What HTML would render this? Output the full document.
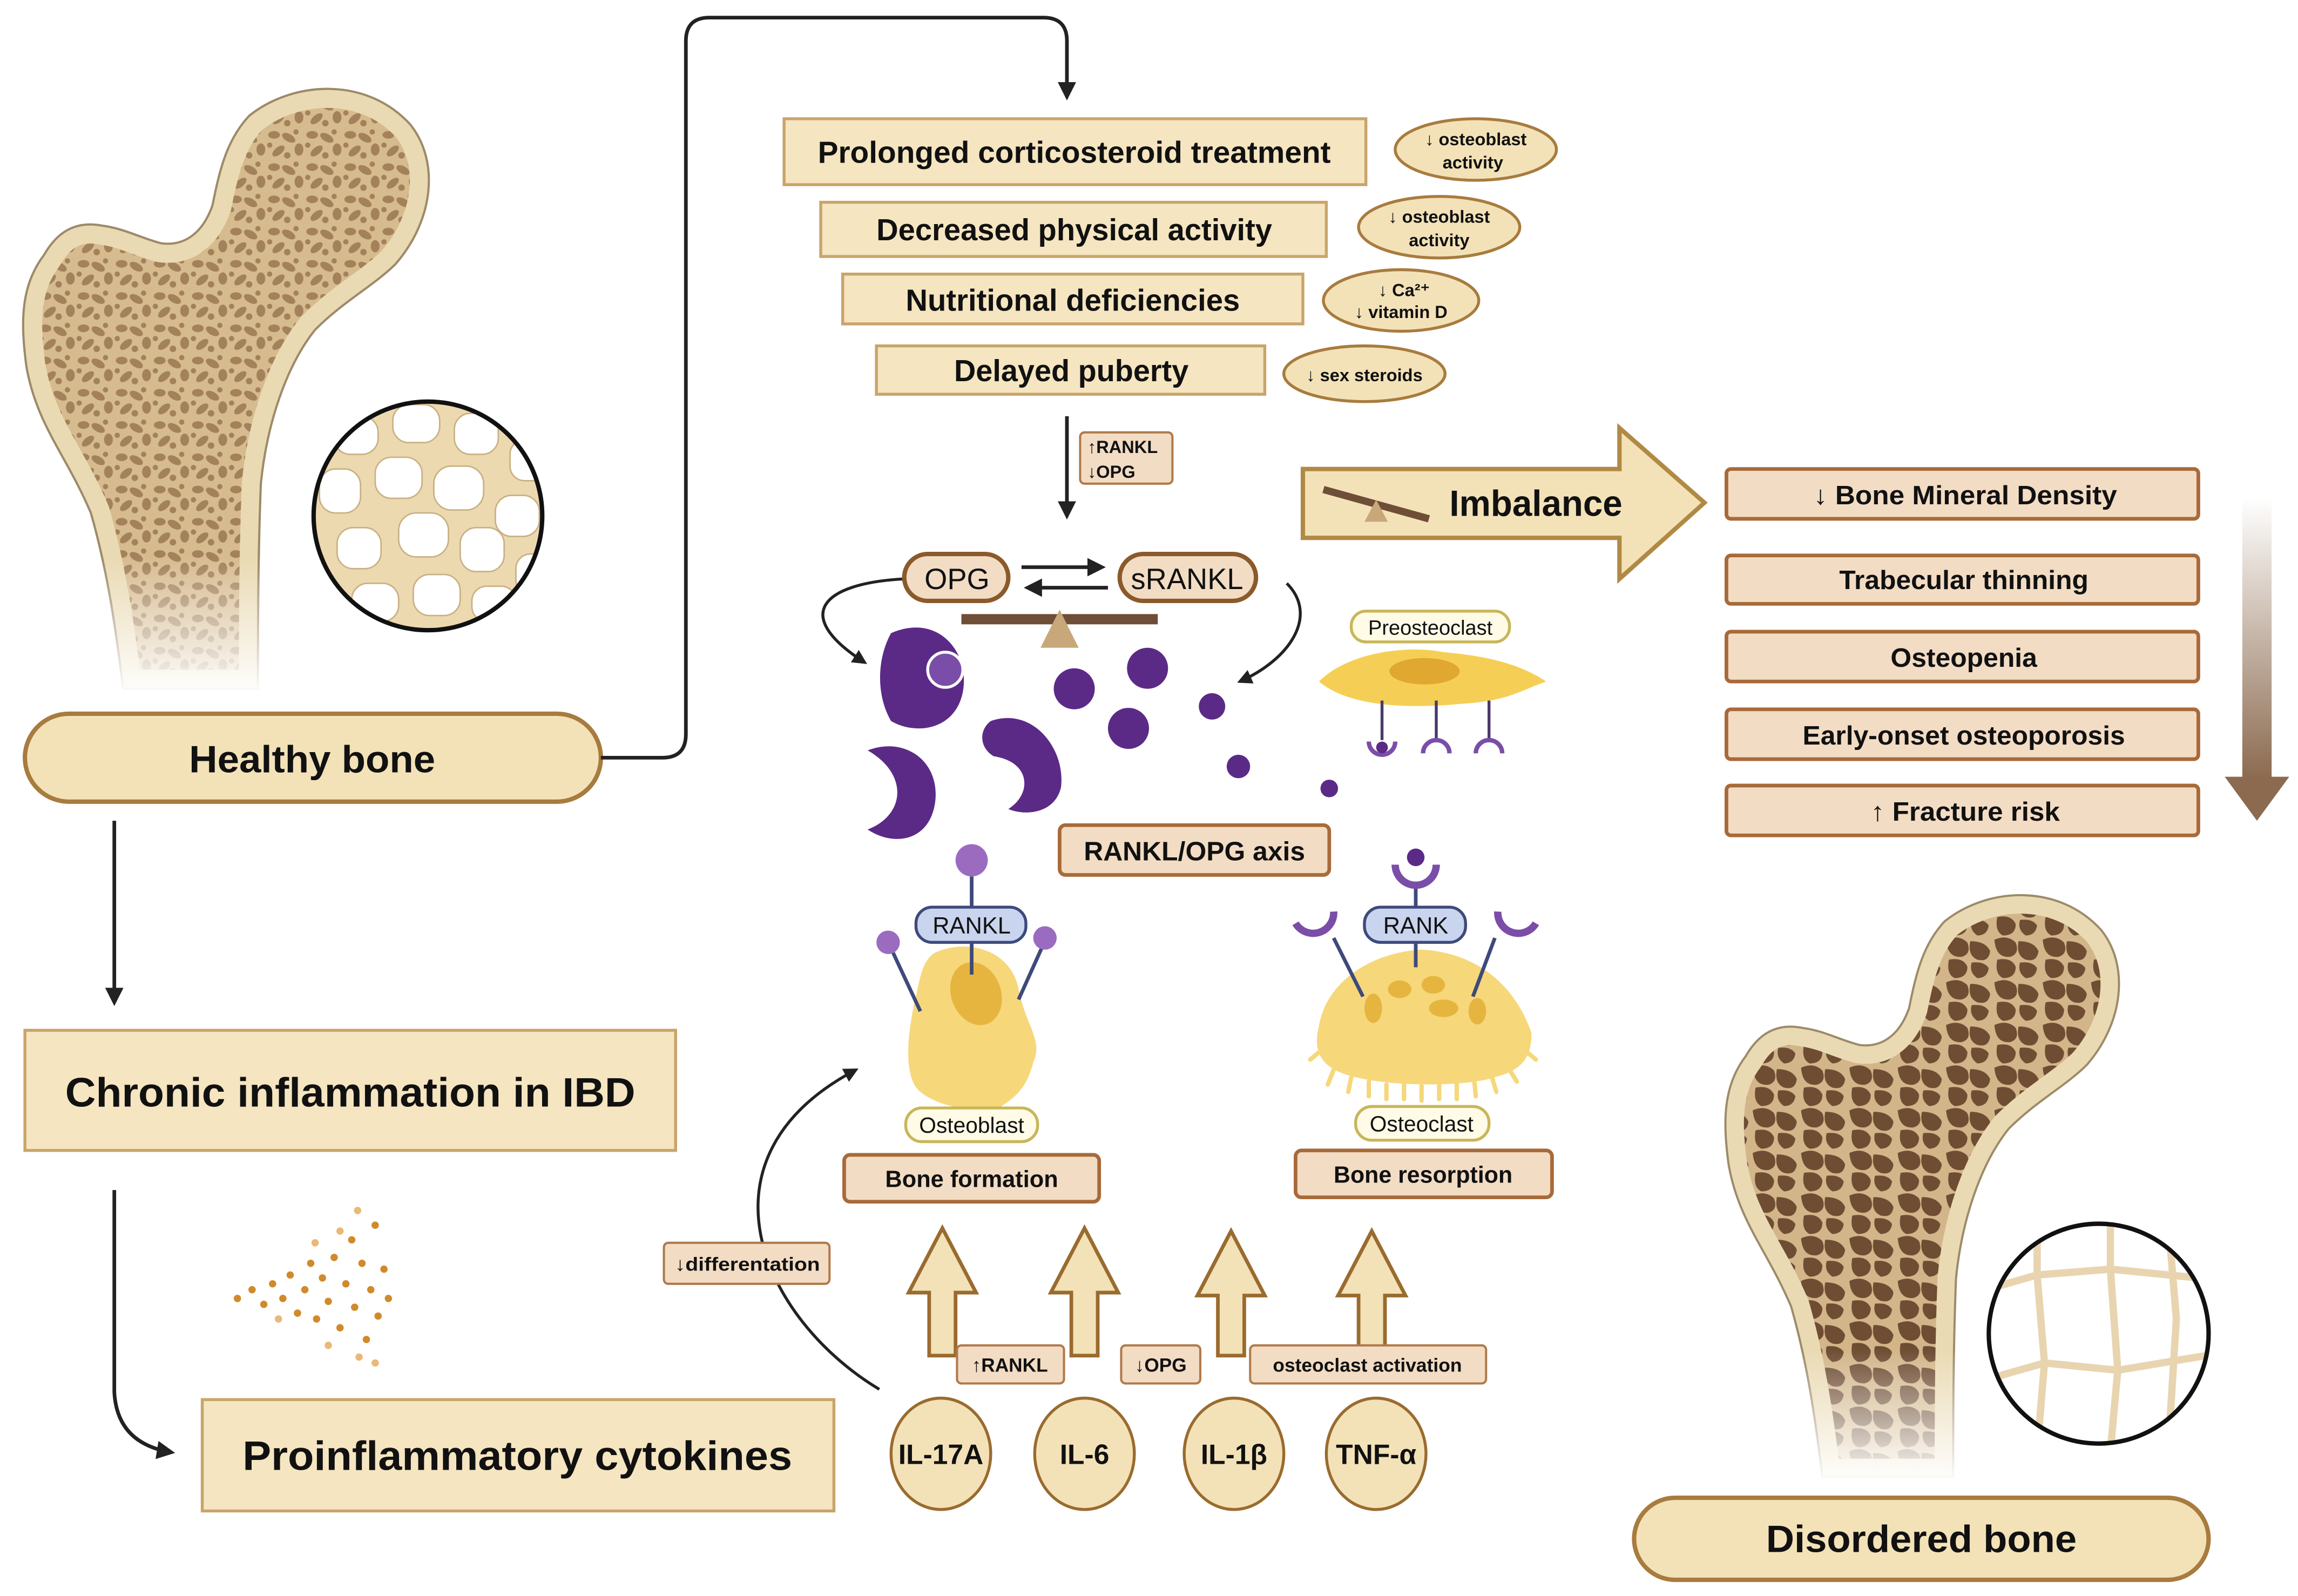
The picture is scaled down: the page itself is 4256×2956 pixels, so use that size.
<!DOCTYPE html>
<html><head><meta charset="utf-8"><style>
html,body{margin:0;padding:0;background:#fff}
svg{display:block}
text{font-family:"Liberation Sans",sans-serif;font-weight:bold;fill:#111}
.n{font-weight:normal}
</style></head><body>
<svg width="4256" height="2956" viewBox="0 0 1568 1089" xmlns="http://www.w3.org/2000/svg">
<defs>
<pattern id="spots" width="26" height="22" patternUnits="userSpaceOnUse">
<rect width="26" height="22" fill="#d6bb8f"/>
<ellipse cx="5" cy="4" rx="4" ry="2.6" fill="#a3815a"/>
<ellipse cx="15" cy="6" rx="5" ry="2.6" fill="#a3815a" transform="rotate(30 15 6)"/>
<ellipse cx="22" cy="14" rx="3" ry="4.2" fill="#a3815a"/>
<ellipse cx="8" cy="15" rx="5" ry="2.5" fill="#a3815a" transform="rotate(-40 8 15)"/>
<circle cx="14" cy="18" r="2.2" fill="#a3815a"/>
<circle cx="2" cy="11" r="1.8" fill="#a3815a"/>
<circle cx="20" cy="2" r="1.8" fill="#a3815a"/>
</pattern>
<pattern id="dspots" width="34" height="30" patternUnits="userSpaceOnUse">
<rect width="34" height="30" fill="#d2b68a"/>
<path d="M1,2 q9,-4 15,2 q3,8 -4,10 q-10,1 -11,-12z" fill="#6e4d33"/>
<path d="M18,3 q11,0 14,7 q-1,8 -9,6 q-7,-3 -5,-13z" fill="#6e4d33"/>
<path d="M3,16 q10,-2 13,5 q0,8 -9,8 q-6,-3 -4,-13z" fill="#6e4d33"/>
<path d="M19,18 q9,-1 12,4 q-1,7 -8,7 q-6,-4 -4,-11z" fill="#6e4d33"/>
</pattern>
<path id="femur" d="M170,79 C200,55 250,52 280,85 C300,110 296,150 270,180 C255,195 235,205 215,225 C195,250 182,290 178,330 C176,380 176,430 176,470 L84,470 C78,420 72,385 62,350 C45,310 25,290 18,250 C14,220 14,195 30,174 C38,160 50,150 70,154 C85,156 95,162 110,166 C125,168 138,160 145,140 C150,115 155,95 170,79Z"/>
<clipPath id="fclip"><use href="#femur"/></clipPath>
<linearGradient id="fade" x1="0" y1="0" x2="0" y2="1"><stop offset="0" stop-color="#fff" stop-opacity="0"/><stop offset="1" stop-color="#fff" stop-opacity="1"/></linearGradient>
<linearGradient id="brown" x1="0" y1="0" x2="0" y2="1"><stop offset="0" stop-color="#fff"/><stop offset="1" stop-color="#8b6a4f"/></linearGradient>
<marker id="ah" viewBox="0 0 10 10" refX="8" refY="5" markerWidth="5" markerHeight="5" orient="auto"><path d="M0,0 L10,5 L0,10z" fill="#222"/></marker>
<clipPath id="c1"><circle cx="292" cy="352" r="78"/></clipPath>
<clipPath id="c2"><circle cx="1432" cy="910" r="75"/></clipPath>
</defs>

<g>
<g clip-path="url(#fclip)">
<rect x="0" y="40" width="320" height="440" fill="url(#spots)"/>
<use href="#femur" fill="none" stroke="#eadab3" stroke-width="26"/>
</g>
<use href="#femur" fill="none" stroke="#9c8a6a" stroke-width="1.5"/>
<rect x="0" y="380" width="320" height="95" fill="url(#fade)"/>
</g>
<g clip-path="url(#c1)">
<rect x="210" y="270" width="170" height="170" fill="#ecd9b0"/>
<g fill="#fff" stroke="#c9b083" stroke-width="1">
<rect x="228" y="284" width="30" height="26" rx="11"/><rect x="268" y="276" width="32" height="26" rx="11"/><rect x="310" y="282" width="30" height="28" rx="11"/><rect x="348" y="300" width="26" height="28" rx="10"/>
<rect x="218" y="320" width="28" height="30" rx="11"/><rect x="256" y="312" width="32" height="28" rx="11"/><rect x="296" y="318" width="34" height="30" rx="12"/><rect x="338" y="338" width="30" height="28" rx="11"/>
<rect x="230" y="360" width="30" height="28" rx="11"/><rect x="272" y="350" width="34" height="30" rx="12"/><rect x="314" y="360" width="30" height="30" rx="11"/><rect x="352" y="378" width="24" height="28" rx="10"/>
<rect x="240" y="398" width="32" height="26" rx="11"/><rect x="282" y="392" width="32" height="28" rx="11"/><rect x="322" y="400" width="30" height="24" rx="10"/>
</g>
</g>
<circle cx="292" cy="352" r="78" fill="none" stroke="#111" stroke-width="3"/>

<rect x="17" y="487" width="393" height="60" rx="30" fill="#f3e2b8" stroke="#a87b3e" stroke-width="3"/>
<text x="213" y="527" font-size="26" text-anchor="middle" textLength="168" lengthAdjust="spacingAndGlyphs">Healthy bone</text>

<g fill="none" stroke="#222" stroke-width="2.5">
<path d="M410,517 H452 Q468,517 468,501 V28 Q468,12 484,12 H712 Q728,12 728,28 V66" marker-end="url(#ah)"/>
<path d="M78,560 V684" marker-end="url(#ah)"/>
<path d="M78,812 V950 Q80,985 117,991" marker-end="url(#ah)"/>
<path d="M728,284 V352" marker-end="url(#ah)"/>
<path d="M600,948 C520,900 470,790 584,730" stroke-width="2" marker-end="url(#ah)"/>
<path d="M617,395 C560,398 540,420 590,452" stroke-width="2" marker-end="url(#ah)"/>
<path d="M878,398 C900,420 880,450 846,465" stroke-width="2" marker-end="url(#ah)"/>
</g>

<rect x="17" y="703" width="444" height="82" fill="#f5e5c0" stroke="#c9a46a" stroke-width="2"/>
<text x="239" y="755" font-size="28" text-anchor="middle" textLength="389" lengthAdjust="spacingAndGlyphs">Chronic inflammation in IBD</text>
<rect x="138" y="955" width="431" height="76" fill="#f5e5c0" stroke="#c9a46a" stroke-width="2"/>
<text x="353" y="1003" font-size="28" text-anchor="middle" textLength="375" lengthAdjust="spacingAndGlyphs">Proinflammatory cytokines</text>

<g fill="#d08a2a">
<circle cx="162" cy="886" r="2.5"/><circle cx="172" cy="880" r="2.5"/><circle cx="180" cy="890" r="2.5"/><circle cx="186" cy="876" r="2.5"/><circle cx="193" cy="886" r="2.5"/><circle cx="198" cy="870" r="2.5"/><circle cx="203" cy="896" r="2.5"/><circle cx="208" cy="880" r="2.5"/><circle cx="212" cy="862" r="2.5"/><circle cx="216" cy="900" r="2.5"/><circle cx="220" cy="872" r="2.5"/><circle cx="224" cy="888" r="2.5"/><circle cx="228" cy="858" r="2.5"/><circle cx="232" cy="906" r="2.5"/><circle cx="236" cy="876" r="2.5"/><circle cx="240" cy="846" r="2.5"/><circle cx="242" cy="892" r="2.5"/><circle cx="247" cy="862" r="2.5"/><circle cx="250" cy="914" r="2.5"/><circle cx="253" cy="880" r="2.5"/><circle cx="256" cy="836" r="2.5"/><circle cx="258" cy="898" r="2.5"/><circle cx="262" cy="866" r="2.5"/><circle cx="265" cy="886" r="2.5"/>
</g>
<g fill="#eab878"><circle cx="244" cy="826" r="2.5"/><circle cx="232" cy="840" r="2.5"/><circle cx="215" cy="848" r="2.5"/><circle cx="245" cy="926" r="2.5"/><circle cx="256" cy="930" r="2.5"/><circle cx="224" cy="918" r="2.5"/><circle cx="190" cy="900" r="2.5"/></g>

<g fill="#f5e5c0" stroke="#c9a46a" stroke-width="2">
<rect x="535" y="81" width="397" height="45"/>
<rect x="560" y="138" width="345" height="37"/>
<rect x="575" y="187" width="314" height="34"/>
<rect x="598" y="236" width="265" height="33"/>
</g>
<text x="733" y="111" font-size="21" text-anchor="middle" textLength="350" lengthAdjust="spacingAndGlyphs">Prolonged corticosteroid treatment</text>
<text x="733" y="164" font-size="21" text-anchor="middle" textLength="270" lengthAdjust="spacingAndGlyphs">Decreased physical activity</text>
<text x="732" y="212" font-size="21" text-anchor="middle" textLength="228" lengthAdjust="spacingAndGlyphs">Nutritional deficiencies</text>
<text x="731" y="260" font-size="21" text-anchor="middle" textLength="160" lengthAdjust="spacingAndGlyphs">Delayed puberty</text>
<g fill="#f3e2b8" stroke="#a87b3e" stroke-width="2">
<ellipse cx="1007" cy="102" rx="55" ry="21"/>
<ellipse cx="982" cy="155" rx="55" ry="21"/>
<ellipse cx="956" cy="205" rx="53" ry="21"/>
<ellipse cx="931" cy="255" rx="55" ry="19"/>
</g>
<g font-size="12" text-anchor="middle">
<text x="1007" y="99">↓ osteoblast</text><text x="1005" y="115">activity</text>
<text x="982" y="152">↓ osteoblast</text><text x="982" y="168">activity</text>
<text x="958" y="202">↓ Ca²⁺</text><text x="956" y="217">↓ vitamin D</text>
<text x="931" y="260">↓ sex steroids</text>
</g>
<rect x="737" y="295" width="63" height="35" rx="3" fill="#f2dcc4" stroke="#b07a4a" stroke-width="1.5"/>
<text x="742" y="309" font-size="12">↑RANKL</text><text x="742" y="326" font-size="12">↓OPG</text>

<rect x="617" y="378" width="71" height="32" rx="16" fill="#f2dcc4" stroke="#8b5a2b" stroke-width="3"/>
<text x="653" y="402" font-size="20" class="n" text-anchor="middle">OPG</text>
<rect x="764" y="378" width="93" height="32" rx="16" fill="#f2dcc4" stroke="#8b5a2b" stroke-width="3"/>
<text x="810" y="402" font-size="20" class="n" text-anchor="middle">sRANKL</text>
<g stroke="#222" stroke-width="2.5" fill="none">
<path d="M697,387 H752" marker-end="url(#ah)"/>
<path d="M756,401 H701" marker-end="url(#ah)"/>
</g>
<rect x="656" y="419" width="134" height="7" fill="#6f4e37"/>
<path d="M723,416 L736,442 H710Z" fill="#c8a87a"/>

<g fill="#5b2a86">
<path d="M608,432 C640,418 662,445 657,472 C652,498 625,502 608,492 C598,475 598,450 608,432Z"/>
<path d="M592,512 C618,502 642,520 638,548 C634,574 610,578 592,566 C618,556 620,528 592,512Z"/>
<path d="M676,492 C704,482 727,510 724,537 C720,555 700,557 688,552 C704,542 704,520 678,516 C668,510 668,498 676,492Z"/>
</g>
<g fill="#5b2a86">
<circle cx="733" cy="470" r="14"/><circle cx="783" cy="456" r="14"/><circle cx="770" cy="497" r="14"/><circle cx="827" cy="482" r="9"/><circle cx="845" cy="523" r="8"/><circle cx="907" cy="538" r="6"/>
</g>
<circle cx="645" cy="457" r="12" fill="#7a4ea8" stroke="#fff" stroke-width="2"/>

<rect x="922" y="417" width="108" height="21" rx="10" fill="#fffbe6" stroke="#c9b65a" stroke-width="2"/>
<text x="976" y="433" font-size="14" class="n" text-anchor="middle">Preosteoclast</text>
<path d="M900,465 C920,445 960,440 985,445 C1020,448 1040,455 1055,465 C1040,470 1030,478 1000,480 C960,484 920,482 900,465Z" fill="#f5cf55"/>
<ellipse cx="972" cy="458" rx="24" ry="9" fill="#e0a830"/>
<g stroke="#4a3a6a" stroke-width="2" fill="none">
<path d="M943,478 V505"/><path d="M980,478 V505"/><path d="M1016,478 V505"/>
</g>
<g stroke="#7a4ea8" stroke-width="3" fill="none">
<path d="M934,506 a9,9 0 0 0 18,0"/><path d="M971,514 a9,9 0 0 1 18,0"/><path d="M1007,514 a9,9 0 0 1 18,0"/>
</g>
<circle cx="943" cy="510" r="4" fill="#5b2a86"/>

<rect x="723" y="563" width="184" height="34" rx="4" fill="#f2dcc4" stroke="#a86a3a" stroke-width="2.5"/>
<text x="815" y="587" font-size="18" text-anchor="middle" textLength="151" lengthAdjust="spacingAndGlyphs">RANKL/OPG axis</text>

<path d="M638,650 C660,640 690,648 695,675 C700,700 712,710 705,725 C700,745 690,750 683,755 C665,760 640,755 628,745 C615,735 620,700 625,680 C628,665 630,655 638,650Z" fill="#f6d77a"/>
<ellipse cx="666" cy="678" rx="17" ry="22" fill="#e6b540" transform="rotate(-20 666 678)"/>
<g stroke="#3e4a7a" stroke-width="2.5"><path d="M663,598 V665"/><path d="M607,645 L628,690"/><path d="M713,642 L695,682"/></g>
<g fill="#9b6bc0"><circle cx="663" cy="587" r="11"/><circle cx="606" cy="643" r="8"/><circle cx="713" cy="640" r="8"/></g>
<rect x="625" y="619" width="75" height="24" rx="11" fill="#c9d4ee" stroke="#3e4a7a" stroke-width="2"/>
<text x="663" y="637" font-size="16" class="n" text-anchor="middle">RANKL</text>
<rect x="618" y="756" width="90" height="23" rx="11" fill="#fffbe6" stroke="#c9b65a" stroke-width="2"/>
<text x="663" y="773" font-size="15" class="n" text-anchor="middle">Osteoblast</text>
<rect x="576" y="788" width="174" height="32" rx="4" fill="#f2dcc4" stroke="#a86a3a" stroke-width="2.5"/>
<text x="663" y="810" font-size="16" text-anchor="middle" textLength="118" lengthAdjust="spacingAndGlyphs">Bone formation</text>

<path d="M900,700 C905,670 935,650 970,648 C1010,650 1035,675 1045,705 C1045,720 1040,730 1020,735 C1000,742 940,742 915,732 C900,726 896,715 900,700Z" fill="#f6d77a"/>
<g stroke="#f6d77a" stroke-width="3" stroke-linecap="round">
<path d="M910,730 l-4,10"/><path d="M922,735 l-2,10"/><path d="M934,738 l0,10"/><path d="M946,740 l0,10"/><path d="M958,740 l0,10"/><path d="M970,741 l0,10"/><path d="M982,740 l0,10"/><path d="M994,740 l0,10"/><path d="M1006,738 l1,10"/><path d="M1018,735 l3,10"/><path d="M1030,730 l5,8"/><path d="M900,718 l-6,5"/><path d="M1042,718 l6,5"/>
</g>
<g fill="#e6b540"><ellipse cx="937" cy="688" rx="6" ry="10"/><ellipse cx="955" cy="675" rx="8" ry="6"/><ellipse cx="978" cy="672" rx="8" ry="6"/><ellipse cx="985" cy="688" rx="10" ry="6"/><ellipse cx="1008" cy="690" rx="6" ry="9"/></g>
<g stroke="#3e4a7a" stroke-width="2.5"><path d="M966,605 V660"/><path d="M910,640 L930,680"/><path d="M1020,640 L1005,680"/></g>
<g stroke="#7a4ea8" stroke-width="5" fill="none"><path d="M952,590 a14,14 0 0 0 28,0"/><path d="M884,630 a14,14 0 0 0 26,-8"/><path d="M1022,622 a14,14 0 0 0 26,8"/></g>
<circle cx="966" cy="585" r="6" fill="#5b2a86"/>
<rect x="931" y="619" width="69" height="24" rx="11" fill="#c9d4ee" stroke="#3e4a7a" stroke-width="2"/>
<text x="966" y="637" font-size="16" class="n" text-anchor="middle">RANK</text>
<rect x="925" y="755" width="91" height="23" rx="11" fill="#fffbe6" stroke="#c9b65a" stroke-width="2"/>
<text x="970" y="772" font-size="15" class="n" text-anchor="middle">Osteoclast</text>
<rect x="884" y="785" width="175" height="32" rx="4" fill="#f2dcc4" stroke="#a86a3a" stroke-width="2.5"/>
<text x="971" y="807" font-size="16" text-anchor="middle" textLength="122" lengthAdjust="spacingAndGlyphs">Bone resorption</text>

<g fill="#f3e2b8" stroke="#9a6b2f" stroke-width="2.5">
<path d="M643,838 L666,882 H652 V925 H634 V882 H620Z"/>
<path d="M740,838 L763,882 H749 V925 H731 V882 H717Z"/>
<path d="M840,840 L863,884 H849 V925 H831 V884 H817Z"/>
<path d="M936,840 L959,884 H945 V925 H927 V884 H913Z"/>
</g>
<g fill="#f2dcc4" stroke="#b07a4a" stroke-width="1.5">
<rect x="653" y="918" width="73" height="26" rx="3"/>
<rect x="765" y="918" width="54" height="26" rx="3"/>
<rect x="853" y="918" width="161" height="26" rx="3"/>
<rect x="453" y="848" width="113" height="28" rx="3"/>
</g>
<g font-size="13">
<text x="689" y="936" text-anchor="middle">↑RANKL</text>
<text x="792" y="936" text-anchor="middle">↓OPG</text>
<text x="933" y="936" text-anchor="middle" textLength="129" lengthAdjust="spacingAndGlyphs">osteoclast activation</text>
<text x="510" y="867" text-anchor="middle" textLength="99" lengthAdjust="spacingAndGlyphs">↓differentation</text>
</g>
<g fill="#f3e2b8" stroke="#9a6b2f" stroke-width="2">
<ellipse cx="642" cy="992" rx="34" ry="38"/><ellipse cx="740" cy="992" rx="34" ry="38"/><ellipse cx="842" cy="992" rx="34" ry="38"/><ellipse cx="939" cy="992" rx="34" ry="38"/>
</g>
<g font-size="19" text-anchor="middle">
<text x="642" y="999">IL-17A</text><text x="740" y="999">IL-6</text><text x="842" y="999">IL-1β</text><text x="939" y="999">TNF-α</text>
</g>

<path d="M889,320 H1105 V292 L1163,343 L1105,395 V367 H889Z" fill="#f3e2b8" stroke="#b08a45" stroke-width="3"/>
<path d="M903,334 L975,354" stroke="#6f4e37" stroke-width="5"/>
<path d="M939,341 L947,356 H931Z" fill="#c8a87a"/>
<text x="1048" y="352" font-size="25" text-anchor="middle" textLength="118" lengthAdjust="spacingAndGlyphs">Imbalance</text>

<g fill="#f2dcc4" stroke="#a86a3a" stroke-width="2.5">
<rect x="1178" y="320" width="322" height="34" rx="3"/>
<rect x="1178" y="379" width="322" height="33" rx="3"/>
<rect x="1178" y="431" width="322" height="34" rx="3"/>
<rect x="1178" y="484" width="322" height="34" rx="3"/>
<rect x="1178" y="536" width="322" height="34" rx="3"/>
</g>
<g font-size="18" text-anchor="middle">
<text x="1341" y="344" textLength="207" lengthAdjust="spacingAndGlyphs">↓ Bone Mineral Density</text>
<text x="1340" y="402" textLength="170" lengthAdjust="spacingAndGlyphs">Trabecular thinning</text>
<text x="1340" y="455" textLength="100" lengthAdjust="spacingAndGlyphs">Osteopenia</text>
<text x="1340" y="508" textLength="220" lengthAdjust="spacingAndGlyphs">Early-onset osteoporosis</text>
<text x="1341" y="560" textLength="129" lengthAdjust="spacingAndGlyphs">↑ Fracture risk</text>
</g>
<rect x="1530" y="340" width="20" height="192" fill="url(#brown)"/>
<path d="M1518,530 H1562 L1540,560Z" fill="#8b6a4f"/>

<g transform="translate(1162,552) scale(0.97)">
<g clip-path="url(#fclip)">
<rect x="0" y="40" width="320" height="440" fill="url(#dspots)"/>
<use href="#femur" fill="none" stroke="#eadab3" stroke-width="26"/>
</g>
<use href="#femur" fill="none" stroke="#9c8a6a" stroke-width="1.5"/>
<rect x="0" y="380" width="320" height="95" fill="url(#fade)"/>
</g>
<circle cx="1432" cy="910" r="75" fill="#fff"/>
<g clip-path="url(#c2)" stroke="#e8d5b0" stroke-width="5" fill="none">
<path d="M1355,880 L1390,870 L1440,866 L1500,872"/>
<path d="M1360,940 L1395,930 L1445,935 L1505,925"/>
<path d="M1390,830 L1390,870 L1395,930 L1390,990"/>
<path d="M1440,830 L1440,866 L1445,935 L1440,990"/>
<path d="M1480,840 L1485,900 L1480,980"/>
</g>
<circle cx="1432" cy="910" r="75" fill="none" stroke="#111" stroke-width="3"/>
<rect x="1115" y="1022" width="392" height="56" rx="28" fill="#f3e2b8" stroke="#a87b3e" stroke-width="3"/>
<text x="1311" y="1059" font-size="26" text-anchor="middle" textLength="212" lengthAdjust="spacingAndGlyphs">Disordered bone</text>
</svg>
</body></html>
